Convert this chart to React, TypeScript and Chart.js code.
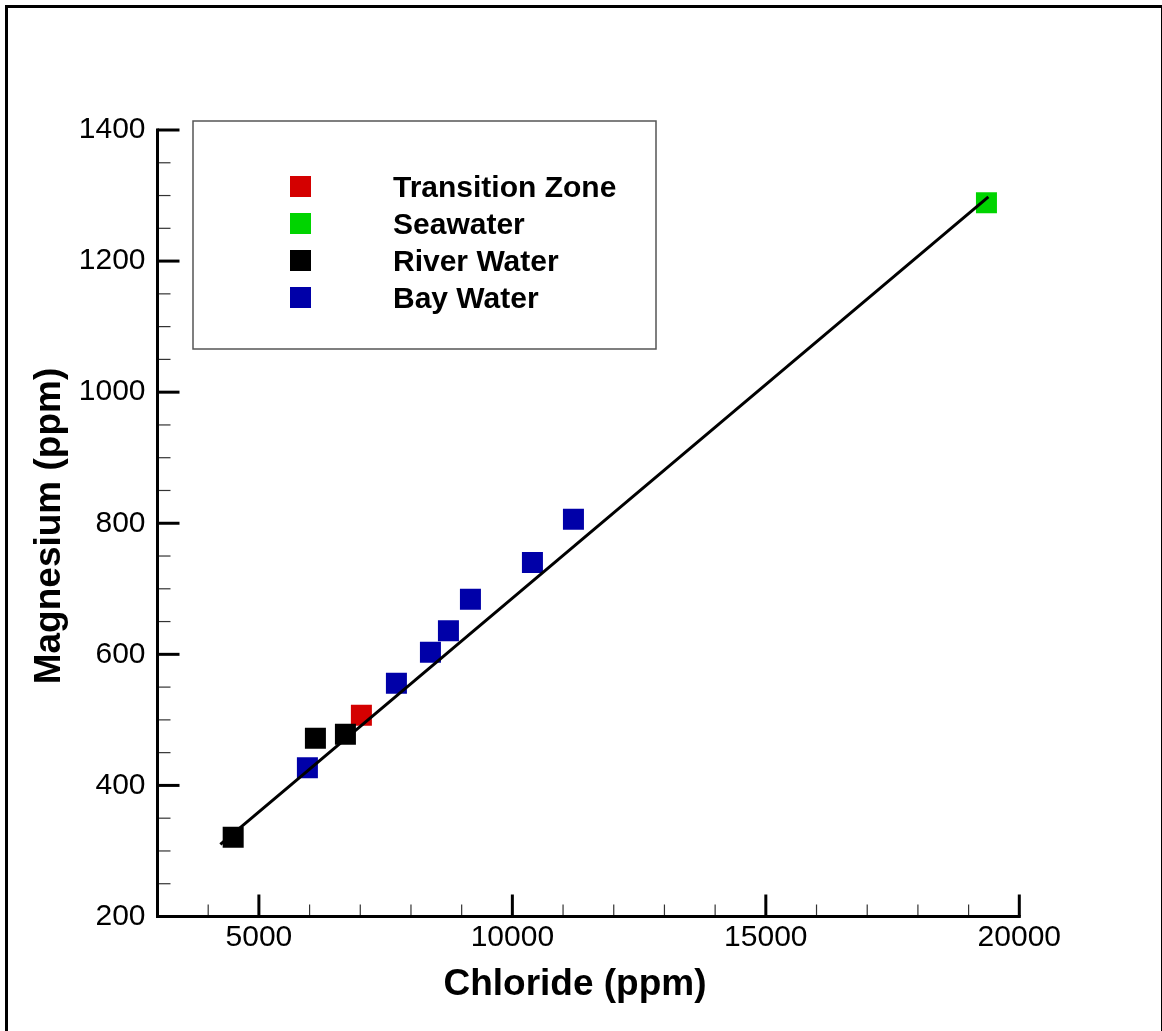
import React, { useEffect, useRef } from 'react';
import { Chart, registerables } from 'chart.js';

Chart.register(...registerables);

// ---- data ----
const seriesLabels = ['Transition Zone', 'Seawater', 'River Water', 'Bay Water'];
const seriesColors = ['#d40000', '#00d400', '#000000', '#0000a8'];
const seriesOrder = [2, 3, 1, 4];

const transitionX = [7022];
const transitionY = [507];
const seawaterX = [19352];
const seawaterY = [1289];
const riverX = [4493, 6115, 6707];
const riverY = [321, 472, 478];
const bayX = [5957, 7713, 8384, 8739, 9173, 10396, 11205];
const bayY = [427, 556, 603, 636, 684, 740, 806];

const fitX = [4240, 19390];
const fitY = [310, 1298];

const xRange = [3000, 20000];
const yRange = [200, 1400];
const xTicks = [5000, 10000, 15000, 20000];
const yTicks = [200, 400, 600, 800, 1000, 1200, 1400];
const xMinorStep = 1000;
const yMinorStep = 50;

const xTitle = 'Chloride (ppm)';
const yTitle = 'Magnesium (ppm)';

const FONT = '"Liberation Sans", Arial, Helvetica, sans-serif';

const seriesX = [transitionX, seawaterX, riverX, bayX];
const seriesY = [transitionY, seawaterY, riverY, bayY];

const toPoints = (xs: number[], ys: number[]) => xs.map((x, i) => ({ x, y: ys[i] }));

const decorPlugin = {
  id: 'decor',
  beforeDraw(chart: any) {
    const { ctx, width, height } = chart;
    ctx.save();
    ctx.fillStyle = '#ffffff';
    ctx.fillRect(0, 0, width, height);
    ctx.restore();
  },
  afterDraw(chart: any) {
    const { ctx, chartArea: a } = chart;
    const xs = chart.scales.x;
    const ys = chart.scales.y;
    const line = (x1: number, y1: number, x2: number, y2: number) => {
      ctx.beginPath();
      ctx.moveTo(x1, y1);
      ctx.lineTo(x2, y2);
      ctx.stroke();
    };
    ctx.save();

    // outer frame
    ctx.strokeStyle = '#000';
    ctx.lineWidth = 3;
    ctx.strokeRect(6.5, 6.5, 1156, 1100);

    // minor ticks
    ctx.lineWidth = 1.2;
    ctx.strokeStyle = '#333';
    for (let v = yRange[0]; v <= yRange[1]; v += yMinorStep) {
      if (yTicks.includes(v)) continue;
      const p = ys.getPixelForValue(v);
      line(a.left, p, a.left + 13, p);
    }
    for (let v = xRange[0]; v <= xRange[1]; v += xMinorStep) {
      if (xTicks.includes(v)) continue;
      const p = xs.getPixelForValue(v);
      line(p, a.bottom, p, a.bottom - 12);
    }

    // major ticks
    ctx.lineWidth = 3;
    ctx.strokeStyle = '#000';
    yTicks.forEach((v) => {
      const p = ys.getPixelForValue(v);
      line(a.left, p, a.left + 22, p);
    });
    xTicks.forEach((v) => {
      const p = xs.getPixelForValue(v);
      line(p, a.bottom, p, a.bottom - 22);
    });

    // axis lines
    ctx.lineCap = 'square';
    line(a.left, ys.getPixelForValue(yRange[1]), a.left, a.bottom);
    line(a.left, a.bottom, xs.getPixelForValue(xRange[1]), a.bottom);
    ctx.lineCap = 'butt';

    // axis titles
    ctx.fillStyle = '#000';
    ctx.font = `bold 37px ${FONT}`;
    ctx.textAlign = 'center';
    ctx.textBaseline = 'alphabetic';
    ctx.fillText(xTitle, 575, 995);
    ctx.save();
    ctx.translate(60, 526);
    ctx.rotate(-Math.PI / 2);
    ctx.fillText(yTitle, 0, 0);
    ctx.restore();

    // legend
    ctx.lineWidth = 1.5;
    ctx.strokeStyle = '#555';
    ctx.strokeRect(193, 121, 463, 228);
    ctx.font = `bold 30px ${FONT}`;
    ctx.textAlign = 'left';
    seriesLabels.forEach((label, i) => {
      const cy = 186.5 + i * 37;
      ctx.fillStyle = seriesColors[i];
      ctx.fillRect(290, cy - 10.5, 21, 21);
      ctx.fillStyle = '#000';
      ctx.fillText(label, 393, cy + 10);
    });

    ctx.restore();
  },
};

export default function App() {
  const ref = useRef<HTMLCanvasElement>(null);

  useEffect(() => {
    if (!ref.current) return;
    const datasets: any[] = [
      {
        type: 'line',
        label: 'fit',
        data: toPoints(fitX, fitY),
        borderColor: '#000',
        borderWidth: 3,
        pointRadius: 0,
        fill: false,
        tension: 0,
        order: 0,
      },
      ...seriesLabels.map((label, i) => ({
        type: 'scatter',
        label,
        data: toPoints(seriesX[i], seriesY[i]),
        backgroundColor: seriesColors[i],
        borderColor: seriesColors[i],
        borderWidth: 0,
        pointStyle: 'rect',
        pointRadius: 14.85,
        order: seriesOrder[i],
      })),
    ];

    const tickFont = { family: FONT, size: 30 };

    const chart = new Chart(ref.current, {
      type: 'scatter',
      data: { datasets },
      plugins: [decorPlugin],
      options: {
        responsive: false,
        animation: false,
        events: [],
        layout: { padding: { left: 7.5, top: 130, right: 142.7, bottom: 0 } },
        plugins: { legend: { display: false }, tooltip: { enabled: false } },
        scales: {
          x: {
            type: 'linear',
            min: xRange[0],
            max: xRange[1],
            grid: { display: false, drawTicks: false },
            border: { display: false },
            afterBuildTicks: (s: any) => {
              s.ticks = xTicks.map((v) => ({ value: v }));
            },
            afterFit: (s: any) => {
              s.height = 114.5;
            },
            ticks: {
              autoSkip: false,
              maxRotation: 0,
              padding: 3,
              color: '#000',
              font: tickFont,
              callback: (v: any) => String(v),
            },
          },
          y: {
            type: 'linear',
            min: yRange[0],
            max: yRange[1],
            grid: { display: false, drawTicks: false },
            border: { display: false },
            afterBuildTicks: (s: any) => {
              s.ticks = yTicks.map((v) => ({ value: v }));
            },
            afterFit: (s: any) => {
              s.width = 150;
            },
            ticks: {
              autoSkip: false,
              padding: 12,
              color: '#000',
              font: tickFont,
              callback: (v: any) => String(v),
            },
          },
        },
      } as any,
    });
    return () => chart.destroy();
  }, []);

  return (
    <div style={{ position: 'absolute', left: 0, top: 0, width: 1162, height: 1031 }}>
      <canvas ref={ref} width={1162} height={1031} style={{ display: 'block', width: 1162, height: 1031 }} />
    </div>
  );
}
